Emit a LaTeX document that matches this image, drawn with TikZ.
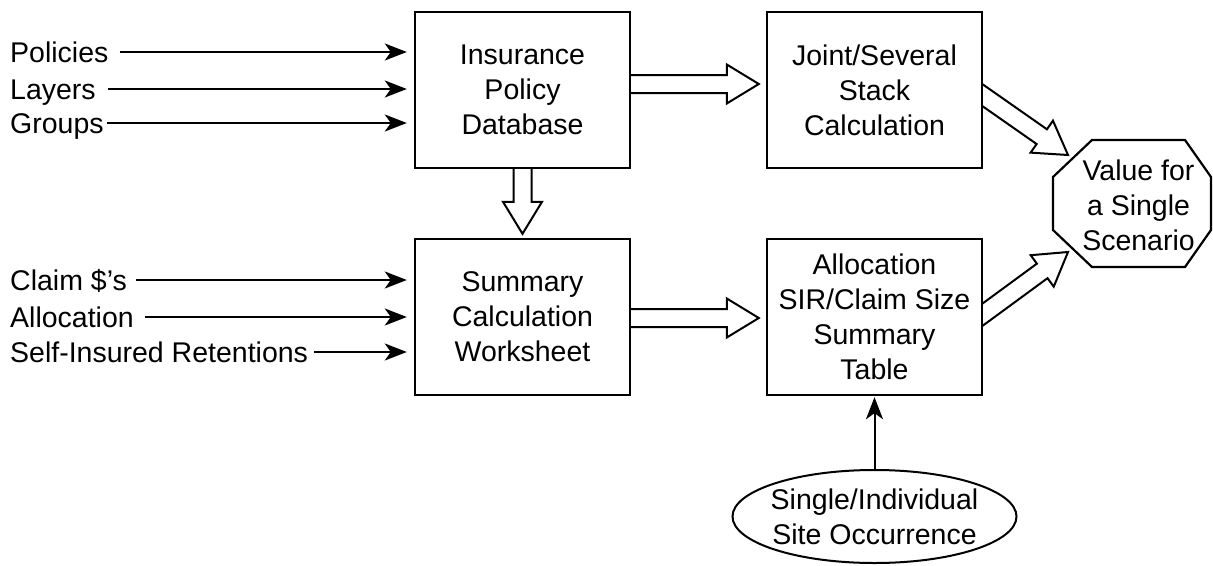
\documentclass[tikz,border=0pt]{standalone}
\usepackage{fontspec}
\setmainfont{Liberation Sans}
\usetikzlibrary{calc,arrows.meta,shapes.geometric,backgrounds}
\newcommand{\fatarr}[2]{%
  \coordinate (fah) at ($(#2)!32pt!(#1)$);
  \draw[fat] ($(#1)!9pt!90:(#2)$) -- ($(fah)!9pt!90:(#2)$) -- ($(fah)!19.5pt!90:(#2)$) -- (#2)
    -- ($(fah)!19.5pt!-90:(#2)$) -- ($(fah)!9pt!-90:(#2)$) -- ($(#1)!9pt!-90:(#2)$) -- cycle;}
\begin{document}
\begin{tikzpicture}[x=1pt,y=-1pt,
  txt/.style={font=\fontsize{28.5}{35}\selectfont},
  box/.style={draw, line width=2.4pt, fill=white, minimum width=215pt, minimum height=156pt, align=center, txt, inner sep=0pt},
  lab/.style={anchor=west, inner sep=0pt, text height=20.5pt, text depth=0pt, txt},
  arr/.style={line width=2pt, -{Stealth[length=22pt,width=17pt,inset=6pt]}, shorten >=7pt},
  fat/.style={line width=2pt, fill=white, line join=miter}]
\useasboundingbox (0,0) rectangle (1213,565);

% boxes
\node[box] (b1) at (522.5,90) {Insurance\\Policy\\Database};
\node[box] (b2) at (874.5,90) {Joint/Several\\Stack\\Calculation};
\node[box] (b3) at (522.5,317) {Summary\\Calculation\\Worksheet};
\node[box] (b4) at (874.5,317) {Allocation\\SIR/Claim Size\\Summary\\Table};

% octagon
\coordinate (oc) at (1138.5,203.5);
\draw[line width=2.2pt] ($(oc)+(-46.5,-63.5)$) -- ($(oc)+(46.5,-63.5)$) -- ($(oc)+(72.5,-26.5)$)
  -- ($(oc)+(72.5,26.5)$) -- ($(oc)+(46.5,63.5)$) -- ($(oc)+(-46.5,63.5)$)
  -- ($(oc)+(-85.5,26.5)$) -- ($(oc)+(-85.5,-26.5)$) -- cycle;
\node[txt, align=center, inner sep=0pt] (oct) at ($(oc)+(0,2)$) {Value for\\a Single\\Scenario};

% ellipse
\node[ellipse, txt, align=center, inner sep=0pt, minimum width=284pt, minimum height=93pt] (ell) at (874.5,516.5) {Single/Individual\\Site Occurrence};
\draw[line width=2pt] (ell.center) ellipse [x radius=142, y radius=46.5];

% input labels
\node[lab] (pol) at (10,52) {Policies};
\node[lab] (lay) at (10,89) {Layers};
\node[lab] (grp) at (10,123) {Groups};
\node[lab] (clm) at (10,280) {Claim \$'s};
\node[lab] (alc) at (10,317) {Allocation};
\node[lab] (sir) at (10,352) {Self-Insured Retentions};

\draw[arr] ([xshift=11pt]pol.east) -- (b1.west |- pol.east);
\draw[arr] ([xshift=12pt]lay.east) -- (b1.west |- lay.east);
\draw[arr] ([xshift=3pt]grp.east) -- (b1.west |- grp.east);
\draw[arr] ([xshift=9pt]clm.east) -- (b3.west |- clm.east);
\draw[arr] ([xshift=11pt]alc.east) -- (b3.west |- alc.east);
\draw[arr] ([xshift=6pt]sir.east) -- (b3.west |- sir.east);

\draw[arr, shorten >=1pt] (ell.north) -- (b4.south);

% fat arrows
\coordinate (h1s) at ($(b1.center)+(0,-6)$);
\coordinate (h1t) at ($(b2.west|-h1s)+(-7,0)$);
\coordinate (h2s) at ($(b3.center)+(0,1)$);
\coordinate (h2t) at ($(b4.west|-h2s)+(-7,0)$);
\coordinate (vs) at (b1.center);
\coordinate (vt) at ($(b3.north)+(0,-4)$);
\coordinate (d1s) at ($(b2.east)+(-41,-23)$);
\coordinate (d1t) at ($(oc)+(-70.5,-48.5)$);
\coordinate (d2s) at ($(b4.east)+(-42,28)$);
\coordinate (d2t) at ($(oc)+(-70.5,48.5)$);
\begin{pgfonlayer}{background}
  \fatarr{h1s}{h1t}
  \fatarr{h2s}{h2t}
  \fatarr{vs}{vt}
  \fatarr{d1s}{d1t}
  \fatarr{d2s}{d2t}
\end{pgfonlayer}
\end{tikzpicture}
\end{document}
